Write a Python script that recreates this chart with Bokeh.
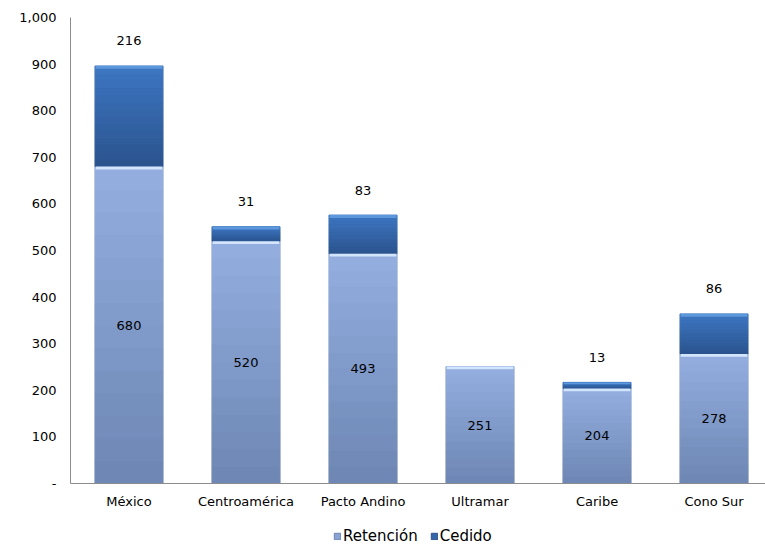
from bokeh.plotting import figure
from bokeh.layouts import column
from bokeh.models import (ColumnDataSource, Legend, LegendItem, Range1d,
                          FixedTicker, NumeralTickFormatter, LabelSet)
from bokeh.core.properties import value
from bokeh.embed import file_html
from bokeh.resources import INLINE

regions = ["México", "Centroamérica", "Pacto Andino", "Ultramar", "Caribe", "Cono Sur"]
retencion = [680, 520, 493, 251, 204, 278]
cedido = [216, 31, 83, 0, 13, 86]
y_ticks = [0, 100, 200, 300, 400, 500, 600, 700, 800, 900, 1000]

FONT = "DejaVu Sans"
x = list(range(len(regions)))
total = [r + c for r, c in zip(retencion, cedido)]


def hex2rgb(h):
    h = h.lstrip("#")
    return tuple(int(h[i:i + 2], 16) for i in (0, 2, 4))


def mix(c1, c2, t):
    a, b = hex2rgb(c1), hex2rgb(c2)
    return "#%02x%02x%02x" % tuple(int(round(a[j] + (b[j] - a[j]) * t)) for j in range(3))


N = 14
RET_TOP, RET_BOT = "#93aee0", "#6d86b3"
CED_TOP, CED_BOT = "#3d76c2", "#2a538d"

sl = dict(x=[], b=[], t=[], c=[])
hl = dict(x=[], b=[], t=[], c=[])
for i in x:
    for (lo, hi, ctop, cbot, chl) in ((0, retencion[i], RET_TOP, RET_BOT, "#d2e5fc"),
                                      (retencion[i], total[i], CED_TOP, CED_BOT, "#5d98dc")):
        if hi <= lo:
            continue
        h = hi - lo
        for k in range(N):
            sl["x"].append(i)
            sl["b"].append(lo + h * k / N)
            sl["t"].append(lo + h * (k + 1) / N)
            sl["c"].append(mix(cbot, ctop, (k + 0.5) / N))
        s = min(6.0, h * 0.3)
        hl["x"].append(i)
        hl["b"].append(hi - s)
        hl["t"].append(hi)
        hl["c"].append(chl)

src = ColumnDataSource(dict(
    x=x, ret=retencion, total=total,
    ret_mid=[r / 2 for r in retencion],
    ret_lbl=[str(r) for r in retencion],
))
ced_idx = [i for i, c in enumerate(cedido) if c > 0]
src_ced_lbl = ColumnDataSource(dict(
    x=[x[i] for i in ced_idx],
    total=[total[i] for i in ced_idx],
    lbl=[str(cedido[i]) for i in ced_idx],
))

p = figure(width=765, height=515, output_backend="svg", toolbar_location=None,
           x_range=Range1d(-0.5, 5.44), y_range=Range1d(0, 1000),
           min_border_left=70, min_border_right=0, min_border_top=17,
           min_border_bottom=32)
p.outline_line_color = None
p.xgrid.visible = False
p.ygrid.visible = False

W = 0.58
# soft edge
p.vbar(x="x", bottom=0, top="total", width=W + 0.012, source=src,
       fill_color="#c9ced8", line_color=None)
p.vbar(x="x", bottom="b", top="t", width=W, source=ColumnDataSource(sl),
       fill_color="c", line_color="c", line_width=1)
p.vbar(x="x", bottom="b", top="t", width=W - 0.01, source=ColumnDataSource(hl),
       fill_color="c", line_color=None)

# Labels
p.add_layout(LabelSet(x="x", y="ret_mid", text="ret_lbl", source=src,
                      text_align="center", text_baseline="middle",
                      text_font=value(FONT), text_font_size="13px",
                      text_color="#000000"))
p.add_layout(LabelSet(x="x", y="total", text="lbl", source=src_ced_lbl,
                      y_offset=25, text_align="center", text_baseline="middle",
                      text_font=value(FONT), text_font_size="13px",
                      text_color="#000000"))

# Axes
p.yaxis.ticker = FixedTicker(ticks=y_ticks)
p.yaxis.formatter = NumeralTickFormatter(format="0,0")
p.yaxis.major_label_overrides = {0: "-"}
p.xaxis.ticker = FixedTicker(ticks=x)
p.xaxis.major_label_overrides = {i: n for i, n in enumerate(regions)}
for ax in (p.xaxis, p.yaxis):
    ax.axis_line_color = "#8c8c8c"
    ax.major_tick_line_color = None
    ax.minor_tick_line_color = None
    ax.major_tick_out = 0
    ax.major_tick_in = 0
    ax.minor_tick_out = 0
    ax.major_label_text_font = FONT
    ax.major_label_text_font_size = "13px"
    ax.major_label_text_color = "#000000"
p.yaxis.major_label_standoff = 14
p.xaxis.major_label_standoff = 10

# Legend strip
p2 = figure(width=765, height=34, output_backend="svg", toolbar_location=None,
            x_range=Range1d(0, 1), y_range=Range1d(0, 1),
            min_border_left=0, min_border_right=0, min_border_top=0,
            min_border_bottom=0)
p2.axis.visible = False
p2.grid.visible = False
p2.outline_line_color = None
d1 = p2.quad(left=[-10], right=[-9], bottom=[-10], top=[-9],
             fill_color="#8aa4d6", line_color="#6c84b0")
d2 = p2.quad(left=[-10], right=[-9], bottom=[-10], top=[-9],
             fill_color="#3567aa", line_color="#2b5288")
legend = Legend(items=[LegendItem(label="Retención", renderers=[d1]),
                       LegendItem(label="Cedido", renderers=[d2])],
                orientation="horizontal", location=(263, 4),
                label_text_font=FONT, label_text_font_size="15px",
                label_text_color="#000000",
                glyph_width=8, glyph_height=8, spacing=12, label_standoff=2,
                border_line_color=None, background_fill_alpha=0,
                padding=0, margin=0)
p2.add_layout(legend)

open("out.html", "w").write(file_html(column(p, p2, spacing=0), INLINE))
